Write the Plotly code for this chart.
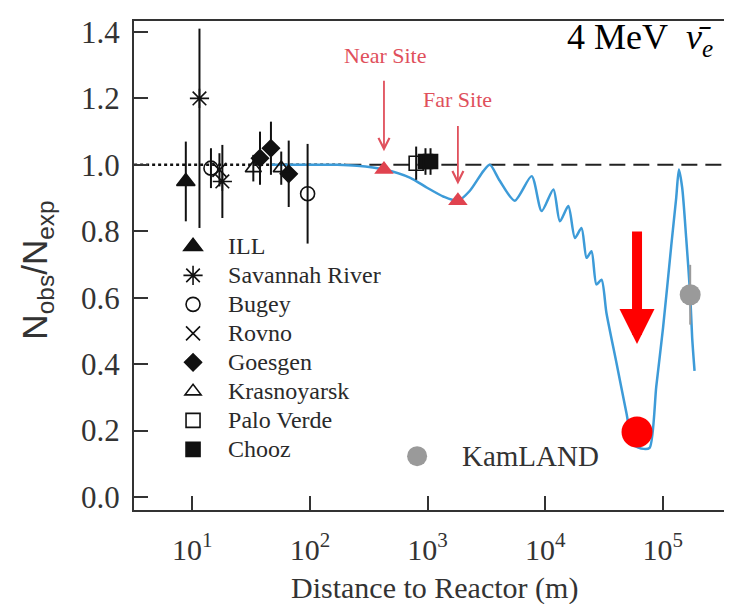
import math
import plotly.graph_objects as go

# ---------------- data ----------------
ill_x = [8.8];              ill_y = [0.95];               ill_err = [0.12]
sr_x = [11.5, 18.0];        sr_y = [1.20, 0.95];          sr_err_plus = [0.21, 0.11]; sr_err_minus = [0.39, 0.11]
bugey_x = [14.4, 95.5];     bugey_y = [0.99, 0.913];      bugey_err = [0.06, 0.15]
rovno_x = [17.0];           rovno_y = [0.985];            rovno_err = [0.05]
goesgen_x = [37.6, 46.6, 66.0]; goesgen_y = [1.02, 1.05, 0.973]; goesgen_err = [0.08, 0.08, 0.10]
kras_x = [33.0, 57.0];      kras_y = [0.99, 0.99];        kras_err = [0.04, 0.05]
pv_x = [800.0];             pv_y = [1.005];               pv_err = [0.05]
chooz_x = [960.0, 1060.0];  chooz_y = [1.01, 1.01];       chooz_err = [0.04, 0.04]

site_x = [426.0, 1811.0];   site_y = [0.986, 0.892]
kamland_x = [171000.0];     kamland_y = [0.609];          kamland_err = [0.09]
dip_x = [60400.0];          dip_y = [0.196]
kam_key_x = [815.0];        kam_key_y = [0.123]

curve_x = [46, 171, 251, 426, 714, 991, 1371, 1811, 2291, 2992, 3388, 4111, 5508,
           7674, 9333, 11749, 13335, 15740, 17906, 20370, 22491, 24774, 27290, 30130,
           33190, 40360, 49090, 56230, 68390, 77270, 88100, 100500, 118000, 130000,
           137100, 146200, 158100, 171000, 177800, 186200]
curve_y = [1.0, 1.0, 0.997, 0.986, 0.961, 0.931, 0.904, 0.892, 0.922, 0.982, 1.0, 0.952, 0.892,
           0.966, 0.861, 0.926, 0.830, 0.876, 0.780, 0.810, 0.720, 0.740, 0.640, 0.654,
           0.554, 0.404, 0.253, 0.157, 0.145, 0.148, 0.334, 0.509, 0.756, 0.900,
           0.986, 0.931, 0.780, 0.608, 0.479, 0.380]

ref_dot_x = [3.2, 200.0];       ref_dot_y = [1.0, 1.0]
ref_dash_x = [200.0, 411000.0]; ref_dash_y = [1.0, 1.0]

x_tickvals = [10, 100, 1000, 10000, 100000]
x_ticktext = ["10<sup>1</sup>", "10<sup>2</sup>", "10<sup>3</sup>", "10<sup>4</sup>", "10<sup>5</sup>"]
y_tickvals = [0.0, 0.2, 0.4, 0.6, 0.8, 1.0, 1.2, 1.4]
y_ticktext = ["0.0", "0.2", "0.4", "0.6", "0.8", "1.0", "1.2", "1.4"]

# ---------------- figure ----------------
SERIF = "Liberation Serif"
BLACK = "#111111"
fig = go.Figure()

fig.add_trace(go.Scatter(x=ref_dot_x, y=ref_dot_y, mode="lines", showlegend=False,
                         line=dict(color=BLACK, width=2.5, dash="3px,3px"), hoverinfo="skip"))
fig.add_trace(go.Scatter(x=ref_dash_x, y=ref_dash_y, mode="lines", showlegend=False,
                         line=dict(color="#222222", width=2, dash="16px,8px"), hoverinfo="skip"))

fig.add_trace(go.Scatter(x=curve_x, y=curve_y, mode="lines", showlegend=False,
                         line=dict(color="#3d9bd8", width=2.5, shape="spline", smoothing=0.7)))

def legend_name(s):
    return '<span style="font-size:24px">' + s + '</span>'

def exp_trace(name, xs, ys, errs, symbol, size, errs_minus=None):
    marker = dict(symbol=symbol, size=size, color=BLACK,
                  line=dict(color=BLACK, width=1.6))
    err = dict(type="data", array=errs, visible=True, color=BLACK, thickness=2, width=0)
    if errs_minus is not None:
        err["symmetric"] = False
        err["arrayminus"] = errs_minus
    return go.Scatter(x=xs, y=ys, mode="markers", name=legend_name(name), marker=marker,
                      error_y=err)

fig.add_trace(exp_trace("ILL", ill_x, ill_y, ill_err, "triangle-up", 16))
fig.add_trace(exp_trace("Savannah River", sr_x, sr_y, sr_err_plus, "asterisk-open", 16, sr_err_minus))
fig.add_trace(exp_trace("Bugey", bugey_x, bugey_y, bugey_err, "circle-open", 14))
fig.add_trace(exp_trace("Rovno", rovno_x, rovno_y, rovno_err, "x-thin-open", 14))
fig.add_trace(exp_trace("Goesgen", goesgen_x, goesgen_y, goesgen_err, "diamond", 13))
fig.add_trace(exp_trace("Krasnoyarsk", kras_x, kras_y, kras_err, "triangle-up-open", 14))
fig.add_trace(exp_trace("Palo Verde", pv_x, pv_y, pv_err, "square-open", 14))
fig.add_trace(exp_trace("Chooz", chooz_x, chooz_y, chooz_err, "square", 14))

fig.add_trace(go.Scatter(x=site_x, y=site_y, mode="markers", showlegend=False,
                         marker=dict(symbol="triangle-up", size=17, color="#e0434f")))

fig.add_trace(go.Scatter(x=kamland_x, y=kamland_y, mode="markers", showlegend=False,
                         marker=dict(size=21, color="#9a9a9a"),
                         error_y=dict(type="data", array=kamland_err, visible=True,
                                      color="#9a9a9a", thickness=2, width=0)))
fig.add_trace(go.Scatter(x=kam_key_x, y=kam_key_y, mode="markers", showlegend=False,
                         marker=dict(size=20, color="#9a9a9a")))
fig.add_trace(go.Scatter(x=dip_x, y=dip_y, mode="markers", showlegend=False,
                         marker=dict(size=31, color="#ff0000")))

lg = math.log10
annotations = [
    dict(x=lg(437), y=1.33, xref="x", yref="y", text="Near Site", showarrow=False,
         font=dict(family=SERIF, size=22, color="#e0505c")),
    dict(x=lg(site_x[0]), y=1.041, xref="x", yref="y", text="", showarrow=True,
         ax=0, ay=-72, arrowhead=5, arrowsize=1.2, arrowwidth=1.8, arrowcolor="#e0505c"),
    dict(x=lg(site_x[1]), y=1.197, xref="x", yref="y", text="Far Site", showarrow=False,
         font=dict(family=SERIF, size=22, color="#e0505c")),
    dict(x=lg(site_x[1]), y=0.941, xref="x", yref="y", text="", showarrow=True,
         ax=0, ay=-60, arrowhead=5, arrowsize=1.2, arrowwidth=1.8, arrowcolor="#e0505c"),
    dict(x=lg(dip_x[0]), y=0.461, xref="x", yref="y", text="", showarrow=True,
         ax=0, ay=-114, arrowhead=2, arrowsize=0.7, arrowwidth=10, arrowcolor="#ff0000"),
    dict(x=lg(1884), y=kam_key_y[0], xref="x", yref="y", text="KamLAND", showarrow=False,
         xanchor="left", font=dict(family=SERIF, size=29, color="#333333")),
    dict(x=0.966, y=0.962, xref="paper", yref="paper",
         text="4 MeV\u2002<i>ν̄</i><sub><i>e</i></sub>",
         showarrow=False, xanchor="right", yanchor="middle",
         font=dict(family=SERIF, size=36, color="#000000")),
    dict(x=-0.161, y=0.49, xref="paper", yref="paper",
         text="N<sub>obs</sub>/N<sub>exp</sub>",
         showarrow=False, textangle=-90, xanchor="center", yanchor="middle",
         font=dict(family="Liberation Sans", size=35, color="#333333")),
    dict(x=0.5, y=-0.159, xref="paper", yref="paper", text="Distance to Reactor (m)",
         showarrow=False, xanchor="center", yanchor="middle",
         font=dict(family=SERIF, size=30, color="#333333")),
]

fig.update_layout(
    width=732, height=604,
    margin=dict(l=126, r=3, t=13, b=102),
    paper_bgcolor="white", plot_bgcolor="white",
    font=dict(family=SERIF, color="#222222"),
    annotations=annotations,
    legend=dict(x=0.04, y=0.579, xanchor="left", yanchor="top",
                font=dict(family=SERIF, size=20, color="#2a2a2a"),
                bgcolor="rgba(0,0,0,0)", itemwidth=60, tracegroupgap=0),
)
fig.update_xaxes(type="log", range=[0.504, 5.614], tickvals=x_tickvals, ticktext=x_ticktext,
                 ticks="inside", ticklen=14, tickwidth=2, tickcolor="#333333",
                 showline=True, linecolor="#333333", linewidth=2, mirror=True,
                 showgrid=False, zeroline=False, ticklabelstandoff=12,
                 tickfont=dict(family=SERIF, size=30, color="#333333"))
fig.update_yaxes(range=[-0.039, 1.433], tickvals=y_tickvals, ticktext=y_ticktext,
                 ticks="inside", ticklen=14, tickwidth=2, tickcolor="#333333",
                 showline=True, linecolor="#333333", linewidth=2, mirror=True,
                 showgrid=False, zeroline=False, ticklabelstandoff=6,
                 tickfont=dict(family=SERIF, size=31, color="#333333"))

fig.write_html("out.html")
